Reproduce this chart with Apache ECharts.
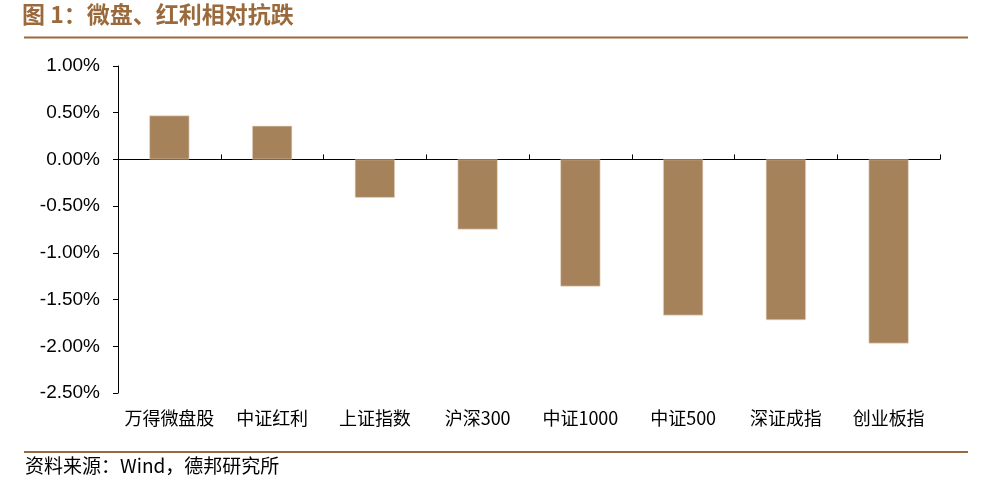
<!DOCTYPE html>
<html><head><meta charset="utf-8">
<script src="https://cdn.jsdelivr.net/npm/echarts@6/dist/echarts.min.js"></script>
<style>html,body{margin:0;padding:0;background:#fff}#c{width:1000px;height:489px}</style>
</head><body><div id="c"></div>
<script>
const categories = ['万得微盘股','中证红利','上证指数','沪深300','中证1000','中证500','深证成指','创业板指'];
const values = [0.47, 0.36, -0.41, -0.75, -1.36, -1.67, -1.72, -1.97];
const yTicks = {min: -2.5, max: 1.0, interval: 0.5};
const titleText = '图 1：微盘、红利相对抗跌';
const sourceText = '资料来源：Wind，德邦研究所';

const chart = echarts.init(document.getElementById('c'), null, {renderer: 'canvas'});
const brown = '#9a6a3c';
chart.setOption({
  animation: false,
  backgroundColor: '#fff',
  grid: {left: 118, right: 60, top: 66, bottom: 96, containLabel: false},
  xAxis: [{
    type: 'category', data: categories, position: 'bottom',
    axisLine: {show: true, onZero: true, lineStyle: {color: '#000', width: 1}},
    axisTick: {show: true, inside: true, length: 5, alignWithLabel: false, lineStyle: {color: '#000'}},
    axisLabel: {show: false}
  }, {
    type: 'category', data: categories, position: 'bottom',
    axisLine: {show: false, onZero: false}, axisTick: {show: false},
    axisLabel: {show: true, interval: 0, color: '#000', fontSize: 18, margin: 16,
      fontFamily: '"Noto Sans CJK SC", sans-serif'}
  }],
  yAxis: {
    type: 'value', min: yTicks.min, max: yTicks.max, interval: yTicks.interval,
    axisLine: {show: true, lineStyle: {color: '#000', width: 1}},
    axisTick: {show: true, length: 5, lineStyle: {color: '#000'}},
    splitLine: {show: false},
    axisLabel: {color: '#000', fontSize: 19, margin: 18, fontFamily: '"Liberation Sans", Arial, sans-serif',
      formatter: v => v.toFixed(2) + '%'}
  },
  series: [{
    type: 'bar', data: values, xAxisIndex: 0, barWidth: '39%',
    itemStyle: {color: '#a6825a', borderColor: '#e9dccd', borderWidth: 0.6}
  }],
  graphic: [
    {type: 'text', left: 22, top: 3, style: {text: titleText, fill: brown, font: 'bold 23px "Noto Sans CJK SC", sans-serif'}},
    {type: 'line', shape: {x1: 24, y1: 37.5, x2: 968, y2: 37.5}, style: {stroke: brown, lineWidth: 2}},
    {type: 'line', shape: {x1: 24, y1: 452, x2: 968, y2: 452}, style: {stroke: brown, lineWidth: 2}},
    {type: 'text', left: 25, top: 456, style: {text: sourceText, fill: '#000', font: '19px "Noto Sans CJK SC", sans-serif'}}
  ]
});
</script></body></html>
